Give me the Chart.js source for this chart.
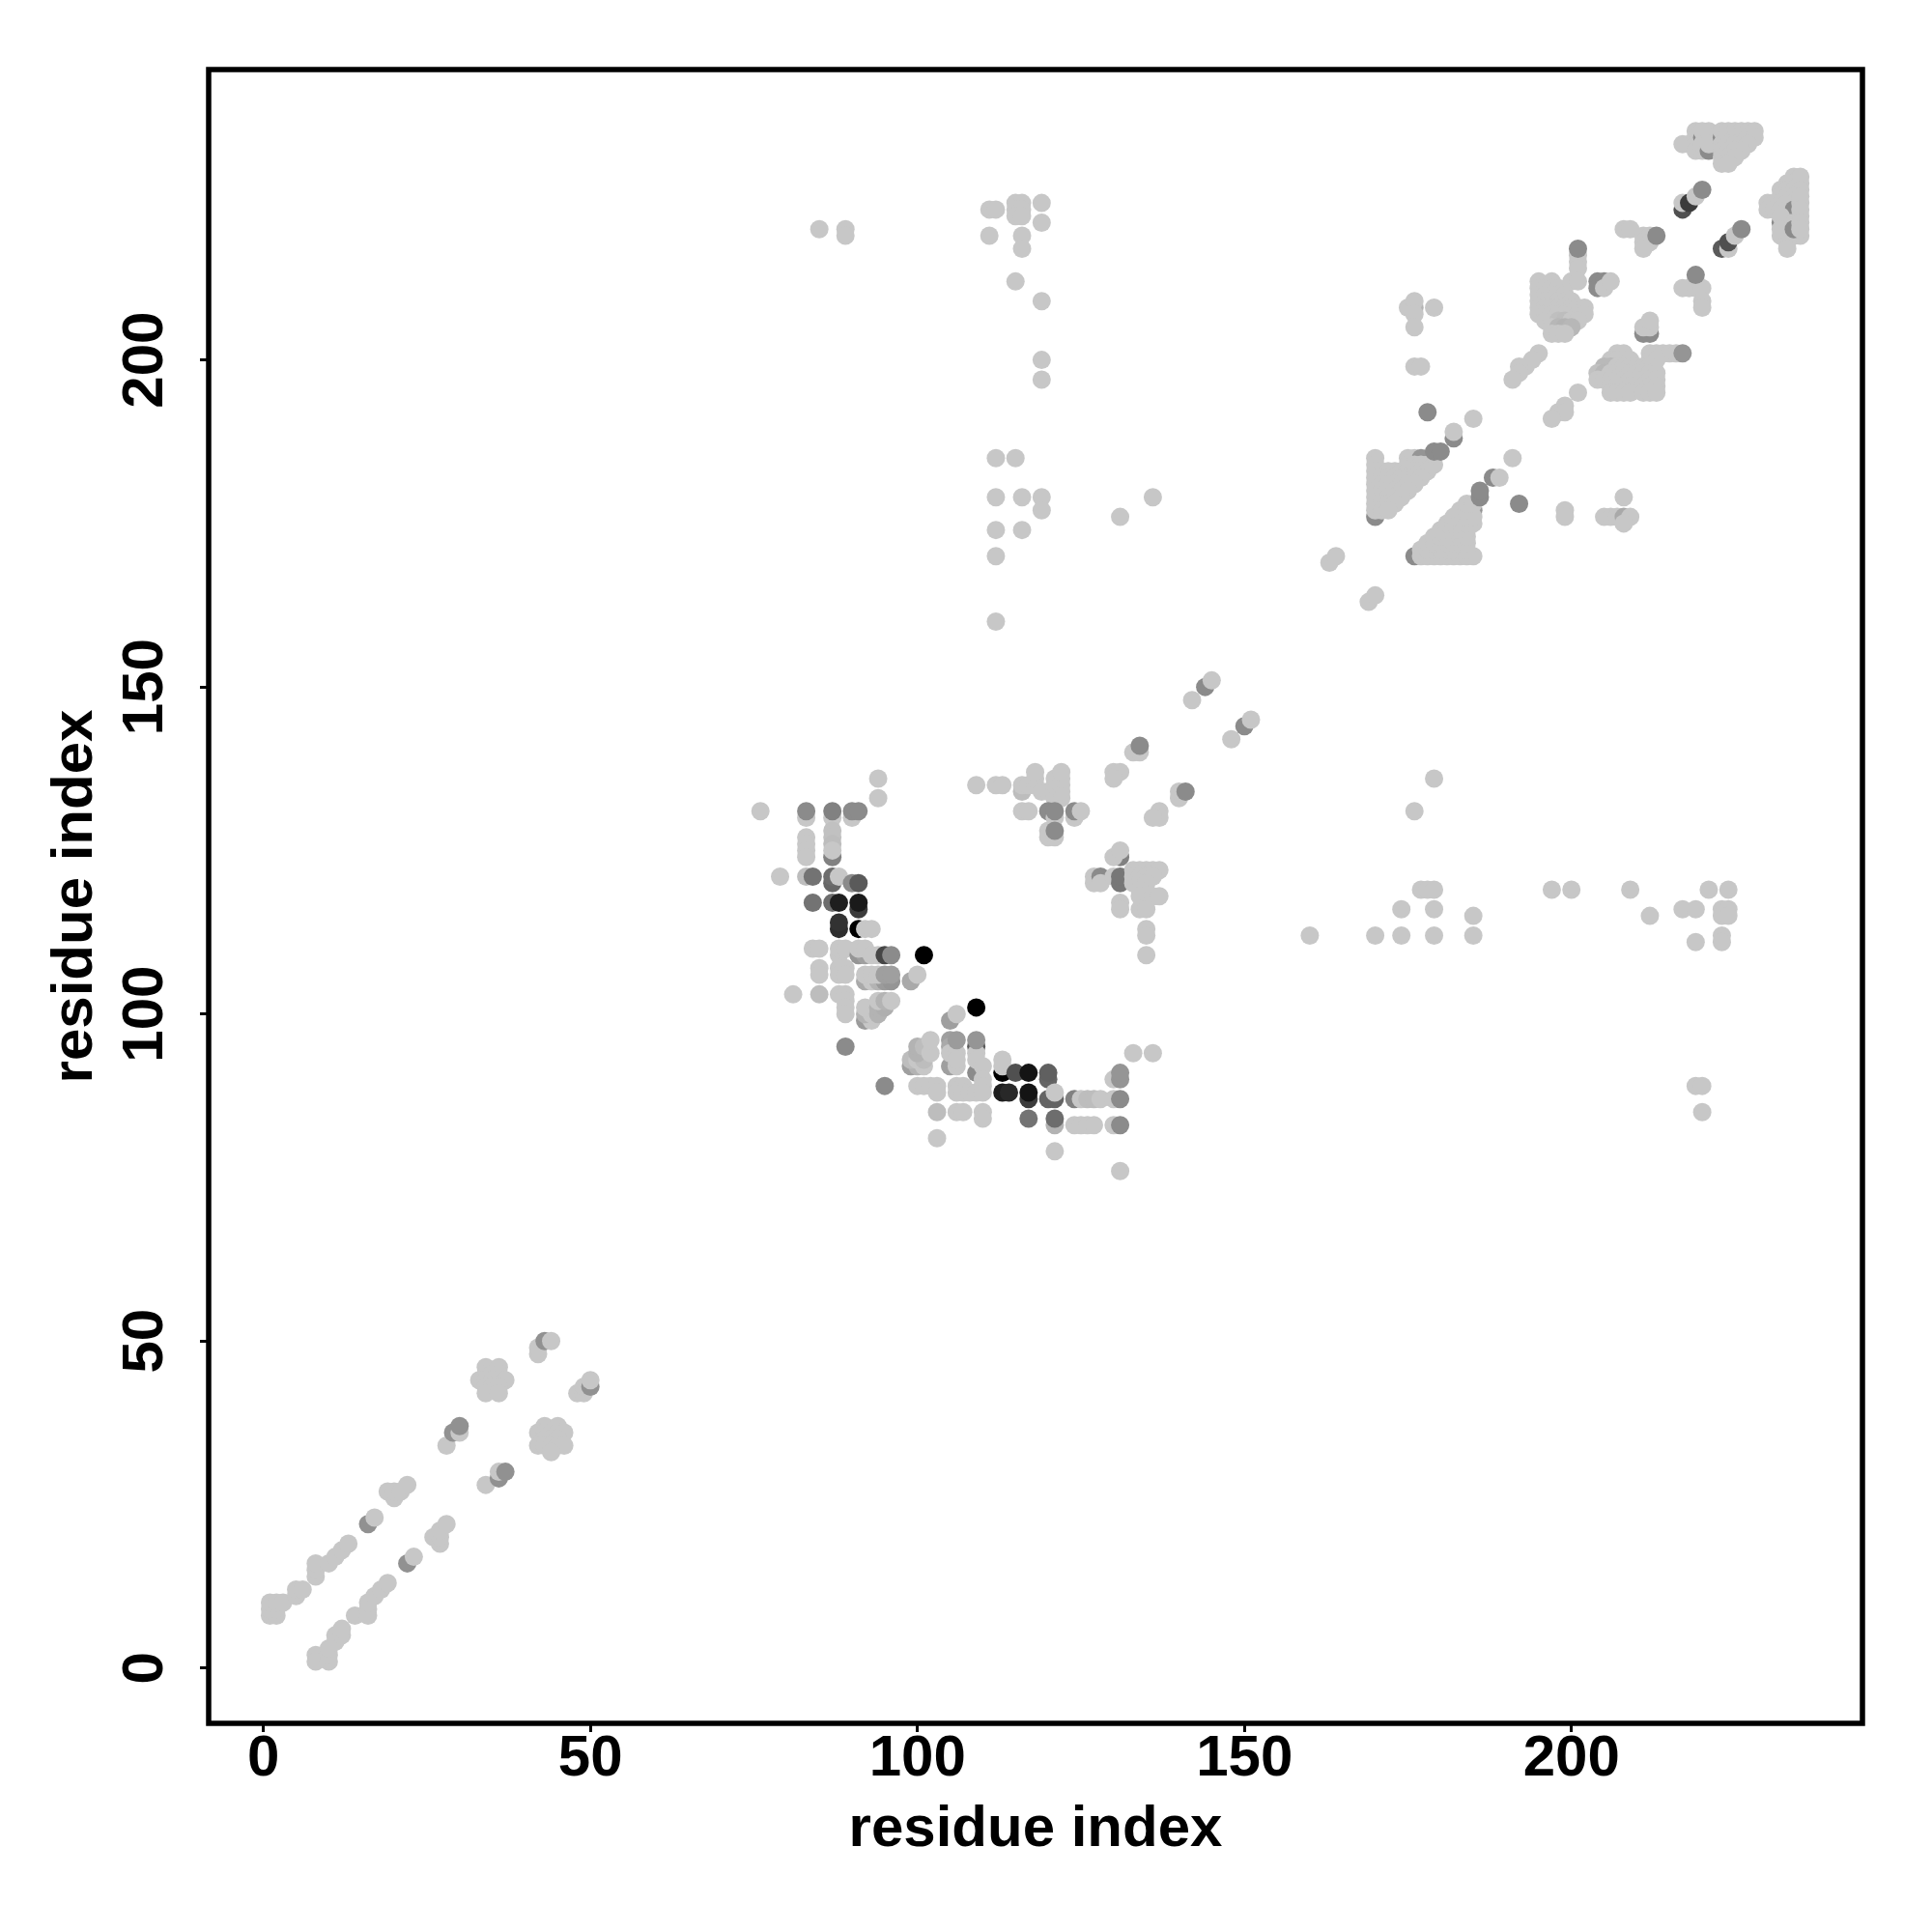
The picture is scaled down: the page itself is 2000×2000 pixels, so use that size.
<!DOCTYPE html>
<html>
<head>
<meta charset="utf-8">
<title>residue contacts</title>
<script src="https://cdn.jsdelivr.net/npm/chart.js@4"></script>
<style>
  html, body { margin: 0; padding: 0; background: #fff; }
  canvas { display: block; }
</style>
</head>
<body>
<canvas id="contactMap" width="2000" height="2000"></canvas>
<script>
// each contact is [residue i, residue j, strength]; no strength means a weak contact
const axisTitle = 'residue index';
const tickValues = [0, 50, 100, 150, 200];

const termBelow = [[8,2],[8,1],[10,1],[10,2],[10,3],[11,4],[11,5],[12,5],[12,6],[14,8],[16,8],[16,9],[16,10],[17,11],[18,12],[19,13],
  [22,16,.27],[23,17],[27,19],[26,20],[27,20],[27,21],[28,22],[34,28],[36,29,.27],[36,30],[37,30,.27]];
const termFlowerLow = [[43,37],[45,37],[42,36],[43,36],[44,36],[45,36],[46,36],[43,35],[44,35],[45,35],[42,34],[43,34],[44,34],[45,34],[46,34],[44,33]];
const termTop = [[48,42],[49,42],[49,43],[50,43,.27],[50,44],[42,48],[42,49],[43,50,.27],[44,50]];
const termFlowerHigh = [[34,46],[36,46],[34,45],[35,45],[36,45],[33,44],[34,44],[35,44],[36,44],[37,44],[34,43],[35,43],[36,43],[34,42],[36,42]];
const termAbove = [[1,8],[2,8],[1,9],[2,9],[1,10],[2,10],[3,10],[5,11],[5,12],[6,12],[8,14],[8,15],[8,16],[10,16],[11,17],[12,18],[13,19],
  [16,22,.27],[17,23],[20,26],[19,27],[20,27],[21,27],[22,28],[28,34],[29,36,.27],[30,36],[30,37,.27]];

const hairpinUpper = [[76,131],[83,130],[83,131,.3],[83,127],[83,126],[83,125],[83,124],[87,124,.35],[87,130],[87,131,.35],[87,128,.03],[87,127,.03],[87,126,.05],[87,125],
  [90,130],[90,131,.3],[91,131,.3],[94,136],[94,133],[79,121],[83,121,.05],[84,121,.42],[87,120,.48],[87,121,.45],[88,121],[90,120,.3],[91,120,.55],
  [84,117,.42],[87,117,.45],[88,117,.85],[91,116,.7],[91,117,.87],[88,113,.77],[88,114,.75],[91,113,1],[92,113],[93,113]];
const hairpinMiddle = [[84,110],[85,110],[88,109],[88,110],[89,110],[91,109,.25],[92,109,.2],[91,110],[92,110],[93,109],[94,109],[95,109,.65],[96,109,.3],[101,109,1],
  [85,107],[85,106],[88,107],[89,107],[88,106],[89,106],[92,105,.15],[93,105],[94,105,.1],[95,105,.22],[96,105,.25],[92,106],[93,106],[94,106],[95,106,.2],[96,106,.2],[99,105,.15],[100,106],
  [81,103],[85,103,.05],[88,103],[89,103],[89,102],[89,101],[89,100],[92,99,.22],[93,99],[92,100,.1],[93,100],[92,101],[94,100,.1],[94,101,.1],[95,101,.12],[94,102],[95,102,.1],[96,102],[89,95,.3]];
const hairpinLower = [[95,89,.3],[109,101,1],[105,99,.2],[106,100],[99,92,.2],[100,92,.1],[101,92],[99,93,.05],[100,93],[101,93,.05],[100,94,.1],[100,95,.1],[101,95,.05],[102,94],[102,96],
  [105,92,.2],[106,92],[105,96,.2],[105,95,.15],[105,94],[106,94],[106,93],[106,96,.22],[109,91,.3],[109,95,.55],[109,94],[109,93],[109,96,.25],[110,92],[110,90],
  [113,91,1],[113,92],[113,93],[115,91,.6],[117,91,.9],[120,90,.5],[120,91,.52],[113,88,.85],[114,88,.8],[117,87,.7],[117,88,.9],[120,87,.5],[121,87,.5],[121,88],
  [100,89],[101,89],[102,89],[103,89],[103,88],[106,89],[107,89],[106,88],[107,88],[108,88],[109,88],[110,89],[110,88],[103,85,.05],[106,85],[107,85],[110,85],[110,84],[103,81],
  [117,84,.42],[121,83,.1],[121,84,.45],[121,79],[131,76],[124,87,.35],[125,87],[126,87,.05],[127,87,.05],[128,87],[130,87],[131,87,.3],[124,83],[125,83],[126,83],[127,83],[130,83],[131,83,.3],
  [130,90],[131,90,.25],[131,91,.25],[133,94],[136,94]];

const midPatch = [[109,135],[112,135],[113,135],[116,134,.05],[116,135],[117,135],[118,135],[118,136],[118,137],[119,134],[120,134],[121,133],[122,133],[121,134],[122,134],[121,135],[122,135],[121,136],[122,136],[122,137],
  [116,131],[117,131],[120,131,.3],[121,130],[121,131,.3],[120,128],[120,127],[121,127],[121,128,.3],[124,130],[124,131,.3],[125,131],
  [130,137],[131,137],[130,136],[133,140],[134,140],[134,141,.3],[140,133],[140,134],[141,134,.3],[137,131],[137,130],[136,130],[142,148],[144,150,.3],[145,151],[148,142],[150,144,.3],[151,145]];
const midPatchLow = [[131,124,.35],[130,124],[131,125],[127,120],[127,121],[128,121,.3],[128,120],[130,121],[131,120,.4],[131,121,.4],
  [133,122],[134,122],[135,122],[136,122],[137,122],[133,121],[134,121],[135,121],[136,121],[133,120],[134,120],[135,120],[134,119],[134,118],[136,118],[137,118],
  [131,117],[131,116],[134,116],[135,116],[135,113],[135,112],[135,109]];

const sparseTop = [[85,220],[89,220],[89,219],[111,223],[112,223],[115,224],[116,224],[115,223],[116,223],[115,222],[116,222],[119,224],[119,221],[111,219],[116,219],[116,217],[115,212],[119,209],
  [119,200],[119,197],[112,185],[115,185],[112,179],[116,179],[119,179],[119,177],[112,174],[116,174],[112,170],[112,160],[131,176],[136,179]];
const sparseRight = [[179,136],[176,131],[177,119],[178,119],[179,119],[174,116],[179,116],[185,115],[185,112],[160,112],[170,112],[174,112],[179,112],
  [197,119],[200,119],[209,119],[212,115],[217,116],[219,116],[221,119],[224,119],[223,116],[224,116],[223,115],[224,115],[223,112],[223,111],[219,111],[219,89],[220,89],[220,85]];

const triangleUpper = [[170,176,.3],[170,185],[175,185],[176,185],[178,185],[177,185,.25],
  [170,184],[175,184],[176,184],[177,184],[178,184],[179,184],
  [170,183],[171,183],[172,183],[173,183],[174,183],[175,183],[176,183],[177,183],[178,183],
  [170,182],[171,182],[172,182],[173,182],[174,182],[175,182],[176,182],[177,182],
  [170,181],[171,181],[172,181],[173,181],[174,181],[175,181],[176,181],
  [170,180],[171,180],[172,180],[173,180],[174,180],[175,180],
  [170,179],[171,179],[172,179],[173,179],[174,179],
  [170,178],[171,178],[172,178],[173,178],[170,177],[171,177],[172,177],
  [176,208,.1],[175,208],[176,209],[176,207],[179,208],[176,205],[176,199],[177,199],[178,192,.3],[185,191],[182,188,.3],[182,189],[179,186,.3],[180,186,.3],[169,163],[170,164],[163,169],[164,170]];
const triangleLower = [[176,170,.3],[177,170],[178,170],[179,170],[180,170],[181,170],[182,170],[183,170],[184,170],[185,170],
  [177,171],[178,171],[179,171],[180,171],[181,171],[182,171],[183,171],[184,171],
  [178,172],[179,172],[180,172],[181,172],[182,172],[183,172],[184,172],
  [179,173],[180,173],[181,173],[182,173],[183,173],[184,173],
  [180,174],[181,174],[182,174],[183,174],[184,174],
  [181,175],[182,175],[183,175],[184,175],[185,175],[182,176],[183,176],[185,177,.25],[184,176],[185,176],[183,177],[184,177],[184,178],[185,178],
  [186,179,.3],[186,180,.3],[188,182,.3],[189,182],[191,185],[192,178,.3],[199,177],[199,176],[205,176],[206,176],[207,176],[208,176,.15],[209,176],[208,179],[208,175]];

const blockUpper = [[195,212],[197,212],[195,211],[196,211],[197,211],[198,211],[195,210],[196,210],[197,210],[198,210],[199,210],
  [195,209],[196,209],[197,209],[198,209],[199,209],[200,209],[195,208],[196,208],[197,208],[198,208],[199,208],[200,208],[201,208],[202,208],
  [195,207],[196,207],[197,207],[198,207],[199,207],[200,207],[201,207],[202,207],[196,206],[197,206],[198,206,.04],[199,206,.05],[200,206],[201,206],
  [197,205],[198,205,.08],[199,205,.1],[200,205,.08],[197,204],[198,204],[199,204],[201,216],[201,215],[201,214],[200,212],[201,212],[201,217,.3],
  [204,212,.3],[204,211,.3],[205,212,.3],[205,211],[206,212],[208,220],[209,220],[211,219],[212,219],[211,218],[212,218],[211,217],[213,219,.3],
  [195,201],[193,199],[194,200],[192,199],[192,198],[191,197],[201,195],[199,193],[198,192],[199,192],[197,191]];
const blockLower = [[207,201],[208,201],[212,201],[213,201],[214,201],[215,201],[216,201],[217,201,.25],[206,200],[207,200],[208,200],[209,200],[212,200],[213,200],
  [205,199,.07],[206,199,.07],[207,199],[208,199],[209,199],[210,199],[211,199],[212,199],
  [204,198,.03],[205,198,.08],[206,198],[207,198],[208,198],[209,198],[210,198],[211,198],[212,198],[213,198],
  [204,197],[205,197],[206,197],[207,197],[208,197],[209,197],[210,197],[211,197],[212,197],[213,197],
  [206,196],[207,196],[208,196],[209,196],[210,196],[211,196],[212,196],[213,196],[206,195],[207,195],[208,195],[209,195],[211,195],[212,195],[213,195],
  [211,204,.3],[212,204,.3],[211,205],[212,205],[212,206],[219,212],[218,211],[217,211],[219,211],[220,211],[220,209],[220,208],[219,213,.3]];

const cornerTop = [[217,233],[218,233],[219,235],[219,234],[219,233],[219,232],[220,232],[221,235],[222,234],[222,233],
  [220,234,.3],[221,234],[220,235],[220,233],[221,232,.3],[221,233],
  [223,234,.3],[224,234],[223,235],[223,233],[224,235],[225,235],[226,235],[227,235],[228,235],[225,234],[226,234],[227,234],[228,234],[224,233],[225,233],[226,233],[227,233],
  [223,232],[224,232],[225,232],[226,232],[223,231],[224,231],[225,231],[223,230],[224,230]];
const cornerRight = [[234,228],[235,228],[233,227],[234,227],[235,227],[232,226],[233,226],[234,226],[235,226],[232,225],[233,225],[234,225],
  [230,224],[231,224],[232,224],[233,224],[234,224],[230,223],[231,223],[232,223],[233,223],[233,222],[234,222],[235,222],[233,220],[233,219],[232,219],[234,219],[235,219],[233,218],[233,217],
  [234,223,.3],[235,224],[235,225],[235,223],[232,221,.3],[233,221],[232,222],[232,220],[234,221],[234,220,.3],[235,221],[235,220]];
const cornerDiagonals = [[217,223,.6],[217,224],[218,224,.7],[219,225],[220,226,.3],[223,217,.55],[224,217],[224,218,.6],[225,219],[226,220,.3]];

const contactGroups = [termBelow, termFlowerLow, termTop, termFlowerHigh, termAbove, hairpinUpper, hairpinMiddle, hairpinLower, midPatch, midPatchLow,
  sparseTop, sparseRight, triangleUpper, triangleLower, blockUpper, blockLower, cornerTop, cornerRight, cornerDiagonals];

const contacts = contactGroups.flat().map(c => ({ x: c[0], y: c[1], s: c[2] || 0 }));

// weak contacts are light grey, strongest are black
function contactColor(strength) {
  const g = Math.round(199 * (1 - strength));
  return `rgb(${g},${g},${g})`;
}

const framePlugin = {
  id: 'frame',
  afterDraw(chart) {
    const { ctx, chartArea } = chart;
    ctx.save();
    ctx.lineWidth = 5.5;
    ctx.strokeStyle = '#000';
    ctx.lineJoin = 'miter';
    ctx.strokeRect(chartArea.left, chartArea.top, chartArea.width, chartArea.height);
    ctx.restore();
  }
};

const tickFont = { family: '"Liberation Sans"', size: 60, weight: 'bold' };
const gridOpts = { drawOnChartArea: false, drawTicks: true, tickLength: 9, tickWidth: 3, tickColor: '#000' };

new Chart(document.getElementById('contactMap'), {
  type: 'scatter',
  data: {
    datasets: [{
      data: contacts,
      pointRadius: 9.5,
      pointBorderWidth: 0,
      pointBackgroundColor: ctx => contactColor(ctx.raw ? ctx.raw.s : 0)
    }]
  },
  plugins: [framePlugin],
  options: {
    responsive: false,
    devicePixelRatio: 1,
    animation: false,
    layout: { padding: { left: 0, top: 72, right: 72, bottom: 0 } },
    plugins: { legend: { display: false }, tooltip: { enabled: false } },
    scales: {
      x: {
        type: 'linear',
        min: -8.37,
        max: 244.5,
        afterBuildTicks: scale => { scale.ticks = tickValues.map(v => ({ value: v })); },
        afterFit: scale => { scale.height = 216; },
        grid: gridOpts,
        border: { display: false },
        ticks: { font: tickFont, color: '#000', padding: -8, maxRotation: 0, autoSkip: false },
        title: { display: true, text: axisTitle, color: '#000', font: tickFont, padding: { top: 0, bottom: 70 } }
      },
      y: {
        type: 'linear',
        min: -8.46,
        max: 244.4,
        afterBuildTicks: scale => { scale.ticks = tickValues.map(v => ({ value: v })); },
        afterFit: scale => { scale.width = 216; },
        grid: gridOpts,
        border: { display: false },
        ticks: { font: tickFont, color: '#000', padding: 5, minRotation: 90, maxRotation: 90, crossAlign: 'center', autoSkip: false },
        title: { display: true, text: axisTitle, color: '#000', font: tickFont, padding: { top: 42, bottom: 0 } }
      }
    }
  }
});
</script>
</body>
</html>
